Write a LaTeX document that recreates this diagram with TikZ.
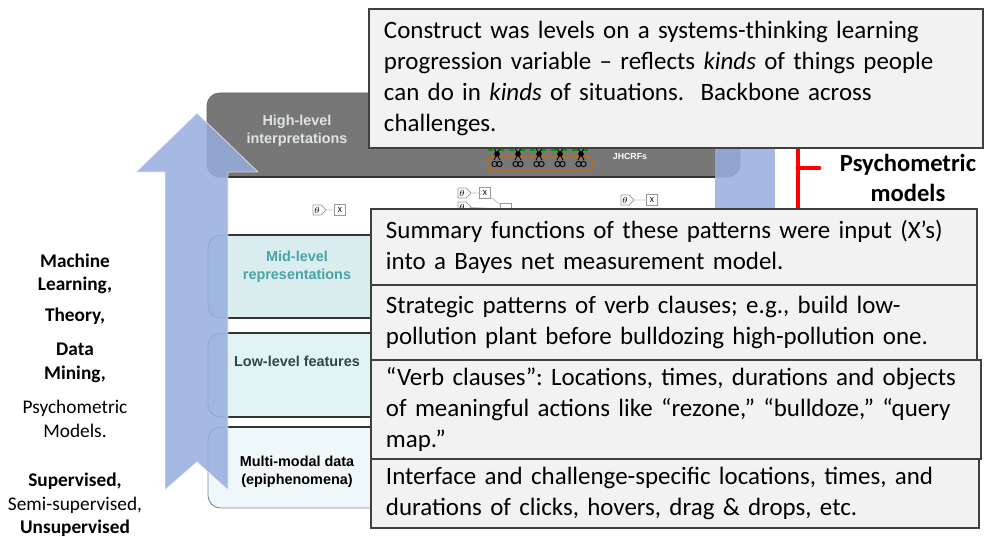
\documentclass[tikz,border=0pt]{standalone}
\usepackage{fontspec}
\setmainfont{Carlito}
\newfontfamily\arialfont{Liberation Sans}
\usetikzlibrary{positioning, shapes.symbols}

\definecolor{notegrey}{HTML}{F2F2F2}
\definecolor{noteline}{HTML}{404040}
\definecolor{headgrey}{HTML}{777777}
\definecolor{headtext}{HTML}{DDE3E6}
\definecolor{midfill}{HTML}{D9EDEF}
\definecolor{lowfill}{HTML}{E2F3F6}
\definecolor{multifill}{HTML}{EEF7F9}
\definecolor{midtext}{HTML}{4AA3A6}
\definecolor{lowtext}{HTML}{2B4747}
\definecolor{rimline}{HTML}{7D8D99}
\definecolor{arrowblue}{RGB}{150,173,221}

\begin{document}
\begin{tikzpicture}[
		x=0.02cm, y=-0.02cm,
		% Define Node Styles
		note/.style={draw=noteline, line width=1.1pt, fill=notegrey, anchor=north west, align=left, inner xsep=0.3cm, inner ysep=0pt, font=\fontsize{14.2}{17.6}\selectfont\frenchspacing},
		sidetext/.style={align=center, font=\fontsize{11}{13.4}\selectfont},
		level/.style={align=center, font=\arialfont\bfseries\fontsize{8.2}{10}\selectfont},
		thetanode/.style={signal, signal to=east, draw=gray!80, fill=white, minimum width=0.24cm, minimum height=0.2cm, inner sep=0.5pt, font=\fontsize{4}{4}\selectfont},
		xnode/.style={draw=gray!80, fill=white, minimum size=0.22cm, inner sep=0pt, font=\rmfamily\fontsize{4.5}{5}\selectfont},
		% Define Line Styles
		row/.style={draw=rimline, line width=0.5pt, rounded corners=0.25cm},
		rowedge/.style={draw=black!80, line width=0.8pt},
		link/.style={draw=teal!40, line width=0.4pt},
		bluebar/.style={fill=arrowblue, opacity=0.85, draw=white, draw opacity=0.6, line width=0.5pt},
		brace/.style={draw=red, line width=2.8pt}
	]
	\useasboundingbox (0,0) rectangle (984,537);

	% Panel: header and rows
	\draw[draw=black!60, fill=headgrey, rounded corners=0.25cm] (207,93) rectangle (740,177);
	\draw[row, fill=midfill] (208,235) rectangle (715,318);
	\draw[row, fill=lowfill] (208,333) rectangle (715,417);
	\draw[row, fill=multifill] (208,427) rectangle (715,508);
	\foreach \yy in {177,235,318,333,417,427}
		\draw[rowedge] (228,\yy) -- (715,\yy);

	% Level labels
	\node[level, text=headtext] (high) at (297,131) {High-level\\interpretations};
	\node[level, text=midtext] (mid) at (297,267) {Mid-level\\representations};
	\node[level, text=lowtext] (low) at (297,361) {Low-level features};
	\node[level] (multi) at (297,472) {Multi-modal data\\(epiphenomena)};

	% Small measurement model fragments
	\node[thetanode] (ta) at (317,210) {$\theta$};
	\node[xnode] (xa) at (340,210) {X};
	\node[thetanode] (tb) at (462,193) {$\theta$};
	\node[xnode] (xb) at (485,193) {X};
	\node[thetanode] (tc) at (462,207) {$\theta$};
	\node[xnode] (xc) at (506,209) {};
	\node[thetanode] (td) at (625,200) {$\theta$};
	\node[xnode] (xd) at (652,200) {X};
	\draw[link] (ta) -- (xa);
	\draw[link] (tb) -- (xb);
	\draw[link] (xb) -- (xc);
	\draw[link] (tc) -- (xc);
	\draw[link] (td) -- (xd);

	% JHCRF chain in the header
	\draw[green!60!black, dashed, line width=0.6pt] (488,150) -- (592,150);
	\draw[orange!80!black, line width=0.8pt, rounded corners=1.5pt] (488,157) rectangle (592,170);
	\foreach \cx in {497,518,539,560,581} {
		\draw[line width=0.5pt] (\cx-2.5,164) circle (1.5pt) (\cx+2.5,164) circle (1.5pt);
		\fill (\cx,154) circle (1.6pt);
		\draw[line width=0.5pt] (\cx-3,148) -- (\cx+3,160) (\cx+3,148) -- (\cx-3,160);
	}
	\node[font=\arialfont\bfseries\fontsize{5}{6}\selectfont, text=white] (jh) at (630,156) {JHCRFs};

	% Big arrow and right bar
	\path[bluebar] (165,490) -- (165,172) -- (136,172) -- (197,113) -- (258,172) -- (228,172) -- (228,490) -- (197,462) -- cycle;
	\fill[fill=arrowblue, opacity=0.85] (715,120) rectangle (775,240);

	% Psychometric models bracket
	\draw[brace] (798,140) -- (798,215);
	\draw[brace, line cap=round] (798,168) -- (819,168);
	\node[align=center, font=\fontsize{14}{17}\selectfont\bfseries] (psy) at (908,178) {Psychometric\\models};

	% Text boxes
	\node[note, minimum width=12.28cm, minimum height=2.78cm, text width=11.68cm] (construct) at (368,8)
		{Construct was levels on a systems-thinking learning\\progression variable – reflects \textit{kinds} of things people\\can do in \textit{kinds} of situations.\ \ Backbone across\\challenges.};
	\node[note, minimum width=12.12cm, minimum height=1.52cm, text width=11.52cm] (summary) at (370,208)
		{Summary functions of these patterns were input (X’s)\\into a Bayes net measurement model.};
	\node[note, minimum width=12.12cm, minimum height=1.5cm, text width=11.52cm] (strategic) at (370,284)
		{Strategic patterns of verb clauses; e.g., build low-\\pollution plant before bulldozing high-pollution one.};
	\node[note, minimum width=12.2cm, minimum height=1.98cm, text width=11.6cm] (verbs) at (370,359)
		{“Verb clauses”: Locations, times, durations and objects\\of meaningful actions like “rezone,” “bulldoze,” “query\\map.”};
	\node[note, minimum width=12.16cm, minimum height=1.38cm, text width=11.56cm] (clicks) at (370,458)
		{Interface and challenge-specific locations, times, and\\durations of clicks, hovers, drag \& drops, etc.};

	% Methods on the left
	\node[sidetext] (ml) at (75,274) {\textbf{Machine}\\\textbf{Learning,}};
	\node[sidetext] (th) at (75,316) {\textbf{Theory,}};
	\node[sidetext] (dm) at (75,363) {\textbf{Data}\\\textbf{Mining,}};
	\node[sidetext] (pmod) at (75,419) {Psychometric\\Models.};
	\node[sidetext] (sup) at (75,505) {\textbf{Supervised,}\\Semi-supervised,\\\textbf{Unsupervised}};
\end{tikzpicture}
\end{document}
